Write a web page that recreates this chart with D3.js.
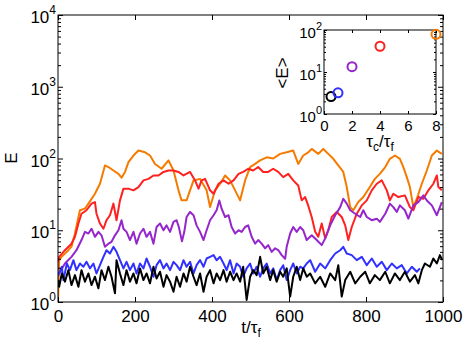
<!DOCTYPE html>
<html>
<head>
<meta charset="utf-8">
<script src="https://cdn.jsdelivr.net/npm/d3@7"></script>
<style>
  body { margin: 0; background: #fff; }
  svg text { font-family: "Liberation Sans", Arial, sans-serif; fill: #000; }
</style>
</head>
<body>
<svg id="chart" width="463" height="349"></svg>
<script>
// time series E(t), pairs of [t/tau_f, E]
const blackSeries = [[0,2.0],[3,1.63],[10,2.5],[18,1.92],[27,2.78],[35,1.72],[44,2.37],[53,1.63],[61,2.78],[70,1.92],[79,2.5],[87,1.72],[96,2.25],[105,1.55],[113,2.78],[122,2.02],[131,3.1],[139,2.25],[148,1.32],[152,3.83],[161,2.5],[170,1.72],[178,2.78],[187,1.92],[196,2.5],[204,1.82],[213,2.94],[222,2.02],[230,2.5],[239,1.82],[248,3.1],[256,2.13],[265,2.64],[274,1.63],[282,2.37],[291,1.92],[300,1.39],[308,2.25],[317,1.63],[326,2.5],[334,1.92],[343,3.1],[352,2.25],[360,1.72],[369,2.5],[378,1.39],[386,2.25],[395,2.78],[404,1.82],[412,2.5],[421,2.02],[430,2.78],[438,1.92],[447,2.64],[456,2.02],[464,2.5],[473,1.92],[481,3.1],[490,1.07],[499,2.25],[507,2.78],[516,2.37],[525,4.26],[533,2.5],[542,3.1],[551,2.02],[559,2.78],[568,1.92],[577,2.64],[585,2.25],[594,2.94],[603,1.19],[611,2.25],[620,3.1],[629,2.02],[637,2.94],[646,2.25],[655,2.5],[668,1.82],[681,2.25],[694,1.63],[707,2.5],[720,2.02],[728,3.26],[737,1.19],[746,2.02],[759,2.64],[772,1.82],[785,2.25],[798,2.64],[810,1.82],[823,2.37],[836,2.02],[850,2.64],[862,1.82],[875,2.5],[888,2.02],[901,2.64],[914,1.92],[927,2.37],[936,1.82],[945,2.78],[953,3.44],[966,3.1],[975,4.04],[984,3.44],[992,4.5],[998,3.83]];

const blueSeries = [[0,2.5],[3,2.5],[10,3.1],[14,2.02],[23,3.44],[31,2.78],[40,3.83],[48,2.78],[57,3.44],[66,3.1],[74,3.63],[83,2.94],[92,3.44],[100,2.5],[109,3.26],[118,4.26],[126,5.27],[135,4.74],[144,5.87],[152,5.0],[161,3.83],[170,2.94],[178,3.63],[187,2.78],[196,3.44],[204,2.5],[213,3.44],[222,2.94],[230,4.04],[239,3.1],[248,2.25],[256,3.26],[265,3.83],[274,2.94],[282,3.44],[291,2.78],[300,3.63],[308,3.26],[317,2.78],[326,3.83],[334,3.1],[343,3.63],[352,2.5],[360,3.26],[369,3.83],[378,3.1],[386,4.04],[395,4.26],[404,4.5],[412,3.83],[421,4.26],[430,3.44],[438,2.78],[447,3.83],[456,2.5],[464,3.44],[473,3.1],[481,2.25],[490,2.94],[499,3.44],[507,2.5],[516,3.1],[525,2.25],[533,2.94],[542,3.44],[551,2.5],[559,2.94],[568,2.02],[577,2.78],[585,3.26],[594,2.02],[603,2.78],[611,3.44],[620,2.5],[629,3.1],[637,2.94],[646,3.44],[655,3.83],[668,2.64],[681,3.44],[694,2.94],[707,3.83],[720,4.74],[733,5.27],[741,5.87],[750,4.74],[763,4.5],[776,3.83],[789,4.26],[802,3.26],[815,4.04],[828,3.1],[841,3.63],[854,2.78],[867,3.44],[880,2.94],[893,3.26],[906,2.5],[919,3.1],[932,2.64],[940,2.94]];

const purpleSeries = [[0,2.3],[3,2.5],[18,3.44],[35,4.26],[48,5.27],[61,7.3],[70,9.5],[79,9.0],[87,10.5],[96,8.1],[105,9.5],[113,8.5],[122,5.9],[131,6.5],[139,6.9],[148,8.5],[157,10],[165,13.8],[170,10.5],[178,9.5],[187,7.3],[196,9.5],[204,6.5],[213,9.0],[222,10.5],[230,8.1],[239,9.5],[248,6.5],[256,11.1],[265,12.4],[274,10],[282,11.7],[291,9.5],[300,13.1],[308,13.8],[314,11],[322,7.0],[328,9.5],[334,15.3],[343,18],[352,16.2],[360,11.7],[369,9.5],[378,7.3],[386,10],[395,13.8],[404,16.2],[412,19],[419,26],[425,20],[434,15.3],[443,16.2],[451,11.1],[460,9.0],[469,10],[477,9.5],[486,11.1],[494,11.7],[503,8.1],[512,6.5],[520,7.3],[529,6.5],[538,5.6],[546,6.2],[555,5.0],[564,5.6],[572,5.3],[581,4.5],[590,4.0],[594,5.9],[603,9.0],[611,11.1],[620,9.5],[629,11.1],[637,10],[646,7.3],[659,8.5],[672,7.3],[685,6.2],[694,7.7],[707,11.7],[720,16.2],[733,21],[741,27.5],[750,23.5],[759,19],[772,17],[785,15.3],[793,19],[802,15.3],[815,13.8],[828,14.5],[836,13.1],[850,17],[862,23.5],[871,21],[880,18],[888,22.2],[901,19],[910,14.5],[923,22.2],[936,24.7],[949,30.6],[958,26],[971,22.2],[984,16.2],[992,21],[997,24.7]];

const redSeries = [[0,3.6],[3,4.26],[18,5.27],[35,6.5],[44,8.1],[53,12.4],[61,17],[74,19],[87,23.5],[96,24.7],[100,17],[109,12.4],[118,10.5],[126,13.8],[135,16.2],[144,23.5],[152,13.8],[161,26.1],[170,38],[183,38],[196,36],[209,40],[222,49.5],[235,52],[248,58],[261,58],[274,65],[287,68],[300,68],[313,65],[326,58],[343,65],[356,49.5],[365,38],[373,49.5],[382,52],[395,36],[404,32.3],[417,44.5],[430,49.5],[443,44.5],[456,49.5],[469,61],[481,65],[494,72],[507,68],[520,76],[533,65],[546,65],[559,72],[572,65],[585,55],[598,61],[611,49.5],[624,42],[633,26.1],[642,29],[650,22],[659,15.3],[668,9.5],[676,8.1],[685,12.4],[694,7.7],[702,10],[711,15.3],[724,18],[737,15.3],[746,11.7],[754,7.3],[763,11.1],[776,17],[789,22.2],[802,26.1],[815,36],[828,44.5],[841,49.5],[854,36],[862,26.1],[871,32.3],[884,29],[901,30.6],[914,21],[923,19],[936,29],[949,27.5],[962,36],[975,44.5],[984,58],[988,40],[997,36]];

const orangeSeries = [[0,1.0],[3,3.8],[10,4.3],[27,5.27],[35,5.9],[44,9.0],[57,19],[70,20],[79,23.5],[96,32.3],[109,44.5],[122,80],[131,76],[144,68],[157,61],[165,54],[174,65],[183,89],[196,110],[209,129],[226,122],[239,110],[252,84],[269,72],[287,94],[300,68],[313,36],[321,26.1],[334,26.1],[352,49.5],[369,52],[386,36],[395,21.1],[408,36],[421,44.5],[434,58],[447,49.5],[460,36],[473,26.1],[486,49.5],[499,76],[512,84],[525,94],[542,104],[559,100],[577,116],[594,122],[611,129],[624,84],[637,110],[650,122],[659,136],[676,116],[689,136],[702,116],[715,99],[728,80],[741,65],[750,40],[759,21],[767,19],[780,24.7],[793,29],[810,40],[823,52],[836,61],[850,76],[862,99],[875,110],[888,99],[897,76],[906,55],[914,40],[923,21],[932,27.5],[945,44.5],[958,68],[971,110],[984,129],[997,116]];

// inset: mean energy vs correlation time ratio
const tauRatio = [0.5, 1, 2, 4, 8];
const meanE = [2.6, 3.2, 13.4, 41, 79];

const xTicks = [0, 200, 400, 600, 800, 1000];
const yTicks = [1, 10, 100, 1000, 10000];
const insetXTicks = [0, 2, 4, 6, 8];
const insetYTicks = [1, 10, 100];

const colors = { black: "#000000", blue: "#3030ff", purple: "#9426cc", red: "#ff2020", orange: "#f57a00" };

const svg = d3.select("#chart");
const m = { left: 58, right: 443, top: 15, bottom: 302 };

const x = d3.scaleLinear().domain([0, 1000]).range([m.left, m.right]);
const y = d3.scaleLog().domain([1, 1e4]).range([m.bottom, m.top]);

function minorTicks(lo, hi) {
	let out = [];
	for (let d = lo; d < hi; d *= 10) {
		for (let k = 2; k < 10; k++) out.push(k * d);
	}
	return out;
}

// power-of-ten labels with a raised exponent
function powLabels(sel, size, supSize, lift) {
	sel.selectAll(".tick text").each(function (d) {
		const t = d3.select(this).text("");
		t.append("tspan").text("10");
		t.append("tspan").attr("dy", -lift).attr("font-size", supSize).text(Math.round(Math.log10(d)));
	}).attr("font-size", size);
}

svg.append("defs").append("clipPath").attr("id", "clip")
	.append("rect").attr("x", m.left).attr("y", m.top)
	.attr("width", m.right - m.left).attr("height", m.bottom - m.top);

const line = d3.line().x((d) => x(d[0])).y((d) => y(d[1]));

const plotted = [
	{ data: orangeSeries, color: colors.orange },
	{ data: redSeries, color: colors.red },
	{ data: purpleSeries, color: colors.purple },
	{ data: blueSeries, color: colors.blue },
	{ data: blackSeries, color: colors.black },
];

svg.append("g").attr("clip-path", "url(#clip)")
	.selectAll("path")
	.data(plotted)
	.join("path")
	.attr("d", (d) => line(d.data))
	.attr("fill", "none")
	.attr("stroke", (d) => d.color)
	.attr("stroke-width", 2)
	.attr("stroke-linejoin", "round");

// main axes
const gx = svg.append("g").attr("transform", "translate(0," + m.bottom + ")")
	.call(d3.axisBottom(x).tickValues(xTicks).tickFormat(d3.format("d")).tickSizeInner(-5).tickSizeOuter(0).tickPadding(8));
gx.selectAll("text").attr("font-size", 17);

svg.append("g").attr("transform", "translate(0," + m.top + ")")
	.call(d3.axisTop(x).tickValues(xTicks).tickSizeInner(-5).tickSizeOuter(0).tickFormat(""));

const gy = svg.append("g").attr("transform", "translate(" + m.left + ",0)")
	.call(d3.axisLeft(y).tickValues(yTicks).tickSizeInner(-5).tickSizeOuter(0).tickPadding(2));
gy.selectAll(".tick text").attr("dy", "0.45em");
powLabels(gy, 17, 12, 9);

svg.append("g").attr("transform", "translate(" + m.left + ",0)")
	.call(d3.axisLeft(y).tickValues(minorTicks(1, 1e4)).tickSizeInner(-3).tickSizeOuter(0).tickFormat(""));

svg.append("g").attr("transform", "translate(" + m.right + ",0)")
	.call(d3.axisRight(y).tickValues(yTicks).tickSizeInner(-5).tickSizeOuter(0).tickFormat(""));
svg.append("g").attr("transform", "translate(" + m.right + ",0)")
	.call(d3.axisRight(y).tickValues(minorTicks(1, 1e4)).tickSizeInner(-3).tickSizeOuter(0).tickFormat(""));

svg.append("rect").attr("x", m.left).attr("y", m.top)
	.attr("width", m.right - m.left).attr("height", m.bottom - m.top)
	.attr("fill", "none").attr("stroke", "#000").attr("stroke-width", 1);

svg.selectAll(".domain").remove();
svg.selectAll(".tick line").attr("stroke", "#000");

// axis labels
const xl = svg.append("text").attr("x", 251).attr("y", 333).attr("text-anchor", "middle").attr("font-size", 17);
xl.append("tspan").text("t/τ");
xl.append("tspan").attr("dy", 4).attr("font-size", 12).text("f");

svg.append("text").attr("transform", "translate(17,158) rotate(-90)")
	.attr("text-anchor", "middle").attr("font-size", 17).text("E");

// inset
const n = { left: 324, right: 436, top: 30, bottom: 114 };
const xi = d3.scaleLinear().domain([0, 8]).range([n.left, n.right]);
const yi = d3.scaleLog().domain([1, 100]).range([n.bottom, n.top]);

const inset = svg.append("g");
inset.append("rect").attr("x", n.left).attr("y", n.top)
	.attr("width", n.right - n.left).attr("height", n.bottom - n.top).attr("fill", "#fff");

const gix = inset.append("g").attr("transform", "translate(0," + n.bottom + ")")
	.call(d3.axisBottom(xi).tickValues(insetXTicks).tickSizeInner(-3).tickSizeOuter(0).tickPadding(6));
gix.selectAll("text").attr("font-size", 15);
inset.append("g").attr("transform", "translate(0," + n.top + ")")
	.call(d3.axisTop(xi).tickValues(insetXTicks).tickSizeInner(-3).tickSizeOuter(0).tickFormat(""));

const giy = inset.append("g").attr("transform", "translate(" + n.left + ",0)")
	.call(d3.axisLeft(yi).tickValues(insetYTicks).tickSizeInner(-3).tickSizeOuter(0).tickPadding(2));
giy.selectAll(".tick text").attr("dy", "0.47em");
powLabels(giy, 15, 11, 8);
inset.append("g").attr("transform", "translate(" + n.left + ",0)")
	.call(d3.axisLeft(yi).tickValues(minorTicks(1, 100)).tickSizeInner(-2).tickSizeOuter(0).tickFormat(""));
inset.append("g").attr("transform", "translate(" + n.right + ",0)")
	.call(d3.axisRight(yi).tickValues(insetYTicks).tickSizeInner(-3).tickSizeOuter(0).tickFormat(""));
inset.append("g").attr("transform", "translate(" + n.right + ",0)")
	.call(d3.axisRight(yi).tickValues(minorTicks(1, 100)).tickSizeInner(-2).tickSizeOuter(0).tickFormat(""));

inset.append("rect").attr("x", n.left).attr("y", n.top)
	.attr("width", n.right - n.left).attr("height", n.bottom - n.top)
	.attr("fill", "none").attr("stroke", "#000").attr("stroke-width", 1);
inset.selectAll(".domain").remove();
inset.selectAll(".tick line").attr("stroke", "#000");

const markerColors = [colors.black, colors.blue, colors.purple, colors.red, colors.orange];
inset.selectAll("circle")
	.data(tauRatio)
	.join("circle")
	.attr("cx", (d) => xi(d))
	.attr("cy", (d, i) => yi(meanE[i]))
	.attr("r", 4.5)
	.attr("fill", "none")
	.attr("stroke", (d, i) => markerColors[i])
	.attr("stroke-width", 2);

const il = inset.append("text").attr("x", 380).attr("y", 147).attr("text-anchor", "middle").attr("font-size", 17);
il.append("tspan").text("τ");
il.append("tspan").attr("dy", 4).attr("font-size", 12).text("c");
il.append("tspan").attr("dy", -4).text("/τ");
il.append("tspan").attr("dy", 4).attr("font-size", 12).text("f");

inset.append("text").attr("transform", "translate(288,73) rotate(-90)")
	.attr("text-anchor", "middle").attr("font-size", 17).text("<E>");
</script>
</body>
</html>
